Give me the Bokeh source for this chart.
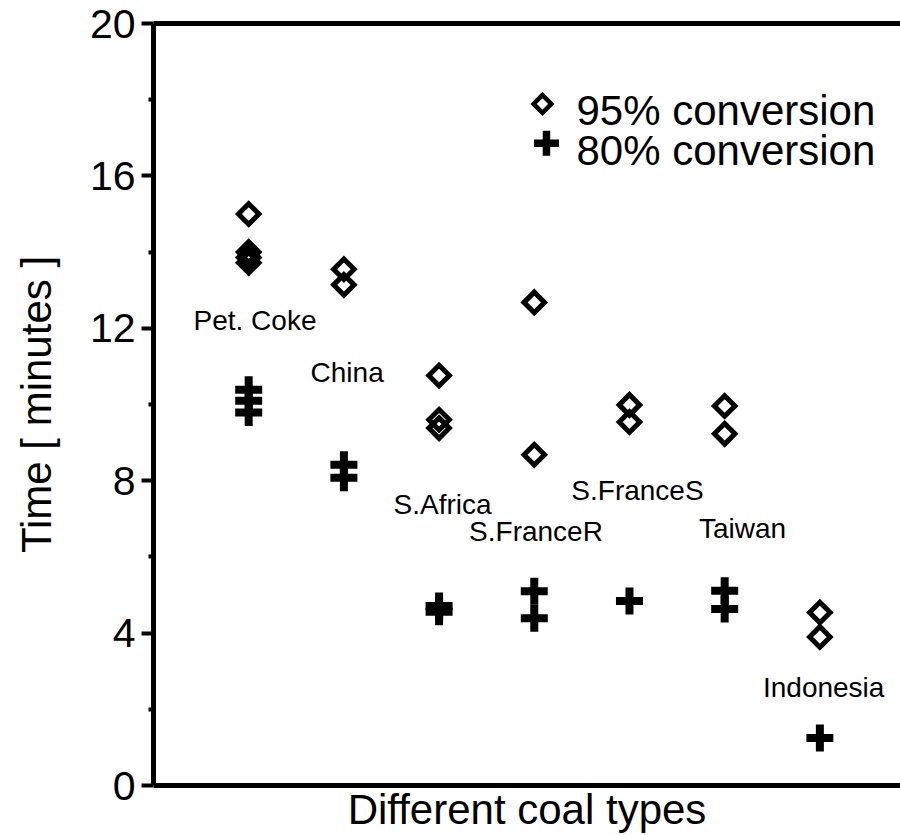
import math
from bokeh.plotting import figure
from bokeh.models import Range1d, FixedTicker, LinearAxis
from bokeh.core.properties import value
from bokeh.embed import file_html
from bokeh.resources import INLINE

# ---- data ----
categories = ["Pet. Coke", "China", "S.Africa", "S.FranceR", "S.FranceS", "Taiwan", "Indonesia"]
cat_pos = [1, 2, 3, 4, 5, 6, 7]
conv95 = [[15.0, 14.0, 13.86, 13.72], [13.55, 13.14], [10.76, 9.6, 9.38], [12.68, 8.68],
          [9.99, 9.54], [9.96, 9.23], [4.54, 3.9]]
conv80 = [[10.39, 10.1, 9.79], [8.42, 8.08], [4.71, 4.56], [5.10, 4.39],
          [4.84], [5.11, 4.63], [1.25]]
y_ticks = [0, 4, 8, 12, 16, 20]
y_minor = [2, 6, 10, 14, 18]
legend_labels = ["95% conversion", "80% conversion"]

# ---- layout (annotation placement) ----
label_x = [1.066, 2.034, 3.036, 4.018, 5.084, 6.187, 7.04]
label_y = [12.21, 10.85, 7.37, 6.67, 7.74, 6.75, 2.56]

FONT = "Liberation Sans"

def flatten(pos, groups):
    xs, ys = [], []
    for x, g in zip(pos, groups):
        for v in g:
            xs.append(x)
            ys.append(v)
    return xs, ys

x95, y95 = flatten(cat_pos, conv95)
x80, y80 = flatten(cat_pos, conv80)

p = figure(width=900, height=835, output_backend="svg", toolbar_location=None,
           x_range=Range1d(0, 7.847), y_range=Range1d(0, 20),
           x_axis_location=None, y_axis_location=None,
           min_border_left=153, min_border_right=0, min_border_top=23, min_border_bottom=50)
p.outline_line_color = None
p.grid.visible = False
p.background_fill_color = "white"

# left axis
yax = LinearAxis(ticker=FixedTicker(ticks=y_ticks, minor_ticks=y_minor),
                 axis_label="Time [ minutes ]")
yax.axis_line_width = 5
yax.axis_line_color = "black"
yax.major_tick_out = 12
yax.major_tick_in = 0
yax.major_tick_line_width = 4
yax.minor_tick_out = 5
yax.minor_tick_in = 0
yax.minor_tick_line_width = 4
yax.major_label_text_font = FONT
yax.major_label_text_font_size = "41px"
yax.major_label_text_color = "black"
yax.major_label_standoff = 6
yax.axis_label_text_font = FONT
yax.axis_label_text_font_size = "42px"
yax.axis_label_text_font_style = "normal"
yax.axis_label_text_color = "black"
yax.axis_label_standoff = 27
p.add_layout(yax, "left")

# bottom axis
xax = LinearAxis(ticker=FixedTicker(ticks=[]), axis_label="Different coal types")
xax.axis_line_width = 5
xax.axis_line_color = "black"
xax.major_tick_out = 0
xax.minor_tick_out = 0
xax.axis_label_text_font = FONT
xax.axis_label_text_font_size = "42px"
xax.axis_label_text_font_style = "normal"
xax.axis_label_text_color = "black"
xax.axis_label_standoff = 0
p.add_layout(xax, "below")

# top line
tax = LinearAxis(ticker=FixedTicker(ticks=[]))
tax.axis_line_width = 5
tax.axis_line_color = "black"
tax.major_tick_out = 0
tax.minor_tick_out = 0
p.add_layout(tax, "above")

# data markers
p.scatter(x95, y95, marker="square", angle=math.pi / 4, size=14.5, line_width=5,
          line_color="black", fill_alpha=0, line_join="miter")
p.scatter(x80, y80, marker="cross", size=27, line_width=8, line_color="black")

# category labels
p.text(x=label_x, y=label_y, text=categories, text_font=value(FONT),
       text_font_size="28px", text_align="center", text_baseline="middle",
       text_color="black")

# manual legend
p.scatter([4.086], [17.89], marker="square", angle=math.pi / 4, size=12.5, line_width=4.5,
          line_color="black", fill_alpha=0, line_join="miter")
p.scatter([4.128], [16.86], marker="cross", size=25, line_width=7.5, line_color="black")
p.text(x=[4.443, 4.443], y=[17.71, 16.67], text=legend_labels, text_font=value(FONT),
       text_font_size="42px", text_align="left", text_baseline="middle", text_color="black")

open("out.html", "w").write(file_html(p, INLINE))
